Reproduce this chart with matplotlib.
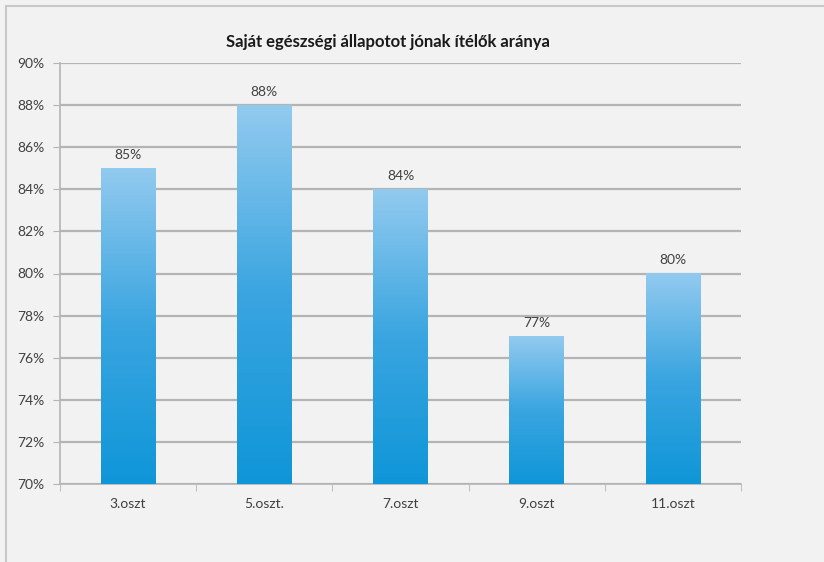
import numpy as np
import matplotlib.pyplot as plt
from matplotlib.colors import LinearSegmentedColormap
from matplotlib.lines import Line2D

osztalyok = ["3.oszt", "5.oszt.", "7.oszt", "9.oszt", "11.oszt"]
aranyok = [85, 88, 84, 77, 80]
y_ticks = [70, 72, 74, 76, 78, 80, 82, 84, 86, 88, 90]

plt.rcParams['font.family'] = ['Lato', 'DejaVu Sans']

bg = '#f2f2f2'
grid_col = '#b4b4b4'
text_col = '#404040'

fig = plt.figure(figsize=(8.24, 5.62), dpi=100, facecolor=bg)
ax = fig.add_axes([60 / 824, 1 - 484 / 562, 681 / 824, 421 / 562])
ax.set_facecolor(bg)

# outer frame: only left and top edges are visible
fig.add_artist(Line2D([5.5 / 824, 5.5 / 824], [0, 1 - 6 / 562],
                      transform=fig.transFigure, color='#c8c8c8', lw=1.5))
fig.add_artist(Line2D([5.5 / 824, 1], [1 - 6 / 562, 1 - 6 / 562],
                      transform=fig.transFigure, color='#c8c8c8', lw=1.5))

x = np.arange(len(osztalyok))
bars = ax.bar(x, aranyok, width=0.4, bottom=0, color='none', zorder=3)

cmap = LinearSegmentedColormap.from_list('kek', ['#0f96d8', '#3aa5e0', '#92caef'])
grad = np.linspace(0, 1, 256).reshape(-1, 1)
for b in bars:
    x0, w, h = b.get_x(), b.get_width(), b.get_height()
    im = ax.imshow(grad, cmap=cmap, origin='lower', aspect='auto',
                   extent=[x0, x0 + w, 70, h], zorder=3)
    ax.text(x0 + w / 2, h + 0.35, f"{h}%", ha='center', va='bottom',
            fontsize=10, color=text_col)

ax.set_xlim(-0.5, len(osztalyok) - 0.5)
ax.set_ylim(70, 90)
ax.set_yticks(y_ticks)
ax.set_yticklabels([f"{v}%" for v in y_ticks], fontsize=10, color=text_col)
ax.set_xticks(x)
ax.set_xticklabels(osztalyok, fontsize=10, color=text_col)
ax.set_xticks(np.arange(-0.5, len(osztalyok)), minor=True)
ax.tick_params(axis='x', which='major', length=0, pad=10)
ax.tick_params(axis='x', which='minor', length=5, color=grid_col, direction='out')
ax.tick_params(axis='y', length=5, color=grid_col, pad=6)

ax.grid(axis='y', color=grid_col, lw=1.6, zorder=1)
for s in ['top', 'right']:
    ax.spines[s].set_visible(False)
for s in ['left', 'bottom']:
    ax.spines[s].set_color(grid_col)
    ax.spines[s].set_linewidth(1.2)

fig.text(388 / 824, 1 - 42 / 562, "Saját egészségi állapotot jónak ítélők aránya",
         ha='center', va='center', fontsize=12, fontweight='bold', color='#1a1a1a')

fig.savefig('out.png', dpi=100, facecolor=bg)
